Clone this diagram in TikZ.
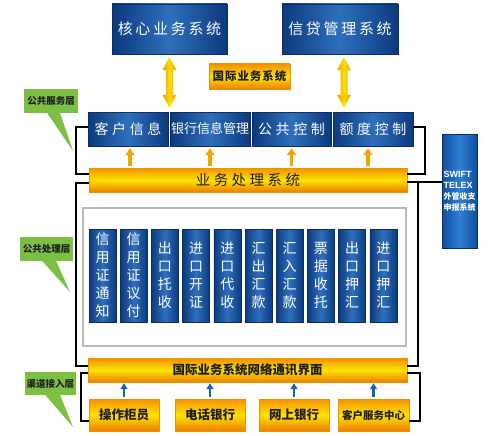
\documentclass[tikz,border=0pt]{standalone}
\usepackage{fontspec}
\setmainfont{Noto Sans CJK SC}
\newfontfamily\latinsans{Liberation Sans}
\usetikzlibrary{arrows.meta,calc}
\definecolor{navy}{HTML}{0C3A7E}
\definecolor{navylt}{HTML}{2E6FBC}
\definecolor{swiftdk}{HTML}{124E9E}
\definecolor{swiftlt}{HTML}{2F7FD2}
\definecolor{orng}{HTML}{F29100}
\definecolor{orngdk}{HTML}{EB7F00}
\definecolor{yel}{HTML}{FFE200}
\definecolor{arrorng}{HTML}{F5A300}
\definecolor{grn}{HTML}{7CC043}
\definecolor{txtdk}{HTML}{1E1E1E}
\definecolor{arrblue}{HTML}{1565B4}
\newcommand\dblarrow[2]{%
  \shade[left color=orng, right color=orng, middle color=yel]
  let \p1=(#1), \p2=(#2) in
  ({\x1},{\y1-3pt}) -- ({\x1-7pt},{\y1-16pt}) -- ({\x1-3.5pt},{\y1-16pt}) --
  ({\x1-3.5pt},{\y2+17pt}) -- ({\x1-7pt},{\y2+17pt}) -- ({\x1},{\y2+4pt}) --
  ({\x1+7pt},{\y2+17pt}) -- ({\x1+3.5pt},{\y2+17pt}) -- ({\x1+3.5pt},{\y1-16pt}) --
  ({\x1+7pt},{\y1-16pt}) -- cycle;}
\tikzset{
  bluebox/.style={left color=navy, right color=navy, middle color=navylt,
    draw=navy!80!black, line width=0.4pt, text=white, inner sep=0pt},
  orangebox/.style={top color=orng, bottom color=orngdk, middle color=yel,
    draw=orng, line width=0.4pt, text=txtdk, inner sep=0pt},
  greentag/.style={fill=grn, text=txtdk, inner sep=0pt,
    font=\fontsize{9.5}{10}\selectfont\bfseries},
  bracket/.style={draw=black, line width=1.8pt, line join=miter},
  upo/.style={draw=arrorng, line width=3.5pt, -{Triangle[width=9pt,length=7pt]},
    shorten <=2pt, shorten >=2pt},
  upb/.style={draw=arrblue, line width=2.5pt, -{Triangle[width=7pt,length=6pt]},
    shorten <=2pt, shorten >=1pt},
  vbox/.style={bluebox, minimum width=27pt, minimum height=93pt, align=center,
    font=\fontsize{14}{18}\selectfont},
  rowbox/.style={bluebox, minimum height=34pt},
  botbox/.style={orangebox, minimum width=70pt, minimum height=32pt,
    font=\fontsize{12.5}{13}\selectfont\bfseries},
}
\begin{document}
\begin{tikzpicture}[x=1pt,y=-1pt]
\useasboundingbox (0,0) rectangle (495,436);

% inner panel
\node[draw=gray!55, line width=1.2pt, fill=white, minimum width=323pt, minimum height=138pt] (panel) at (244.5,277) {};

% top systems
\node[bluebox, minimum width=115pt, minimum height=50pt,
  font=\fontsize{15}{15}\selectfont\addfontfeature{LetterSpace=18}] (core) at (169.5,29) {核心业务系统};
\node[bluebox, minimum width=116pt, minimum height=50pt,
  font=\fontsize{15}{15}\selectfont\addfontfeature{LetterSpace=18}] (credit) at (340,29) {信贷管理系统};
\node[orangebox, minimum width=81pt, minimum height=25pt,
  font=\fontsize{11.5}{12}\selectfont\bfseries\addfontfeature{LetterSpace=8}] (intl) at (249.5,76.5) {国际业务系统};

% service row
\node[rowbox, minimum width=80pt, font=\fontsize{14}{14}\selectfont\addfontfeature{LetterSpace=26}] (kehu) at (128,129) {客户信息};
\node[rowbox, minimum width=80pt, font=\fontsize{13}{13}\selectfont] (yinhang) at (210,129) {银行信息管理};
\node[rowbox, minimum width=79pt, font=\fontsize{14}{14}\selectfont\addfontfeature{LetterSpace=26}] (gonggong) at (291.5,129) {公共控制};
\node[rowbox, minimum width=80pt, font=\fontsize{14}{14}\selectfont\addfontfeature{LetterSpace=26}] (edu) at (373,129) {额度控制};

% processing bar
\node[orangebox, minimum width=318pt, minimum height=24pt,
  font=\fontsize{14.5}{15}\selectfont\addfontfeature{LetterSpace=24}] (bar1) at (248,180) {业务处理系统};

% SWIFT box
\node[bluebox, left color=swiftdk, right color=swiftdk, middle color=swiftlt,
  minimum width=35pt, minimum height=114pt, align=left,
  font=\fontsize{9}{11}\selectfont] (swift) at (459.5,191)
  {{\latinsans\bfseries SWIFT}\\{\latinsans\bfseries TELEX}\\{\fontsize{8}{11}\selectfont\bfseries 外管收支}\\{\fontsize{8}{11}\selectfont\bfseries 申报系统}};

% vertical business boxes
\node[vbox] (v1) at (102.5,275.5) {信\\用\\证\\通\\知};
\node[vbox] (v2) at (133.7,275.5) {信\\用\\证\\议\\付};
\node[vbox] (v3) at (164.9,275.5) {出\\口\\托\\收};
\node[vbox] (v4) at (196.1,275.5) {进\\口\\开\\证};
\node[vbox] (v5) at (227.3,275.5) {进\\口\\代\\收};
\node[vbox] (v6) at (258.5,275.5) {汇\\出\\汇\\款};
\node[vbox] (v7) at (289.7,275.5) {汇\\入\\汇\\款};
\node[vbox] (v8) at (320.9,275.5) {票\\据\\收\\托};
\node[vbox] (v9) at (352.1,275.5) {出\\口\\押\\汇};
\node[vbox] (v10) at (383.3,275.5) {进\\口\\押\\汇};

% network bar
\node[orangebox, minimum width=319pt, minimum height=24pt,
  font=\fontsize{12.5}{13}\selectfont\bfseries] (bar2) at (247.5,370) {国际业务系统网络通讯界面};

% channel boxes
\node[botbox] (caozuo) at (124,415) {操作柜员};
\node[botbox] (dianhua) at (210,415) {电话银行};
\node[botbox] (wangshang) at (294,415) {网上银行};
\node[botbox, minimum width=71pt, font=\fontsize{10.5}{11}\selectfont\bfseries] (kefu) at (373.5,415) {客户服务中心};

% green tags
\node[greentag, minimum width=54pt, minimum height=24pt] (fwc) at (51,101) {公共服务层};
\coordinate (fwtip) at (73,151);
\fill[grn] ([xshift=-4pt,yshift=0.5pt]fwc.south) -- (fwtip) -- ([xshift=9pt,yshift=0.5pt]fwc.south) -- cycle;
\node[greentag, minimum width=53pt, minimum height=24pt] (clc) at (46.5,249) {公共处理层};
\coordinate (cltip) at (70,292);
\fill[grn] ([xshift=-4.5pt,yshift=0.5pt]clc.south) -- (cltip) -- ([xshift=9.5pt,yshift=0.5pt]clc.south) -- cycle;
\node[greentag, minimum width=51pt, minimum height=23pt] (qdc) at (50.5,383.5) {渠道接入层};
\coordinate (qdtip) at (73,427);
\fill[grn] ([xshift=-5.5pt,yshift=0.5pt]qdc.south) -- (qdtip) -- ([xshift=9.5pt,yshift=0.5pt]qdc.south) -- cycle;

% double arrows
\dblarrow{core.south}{kehu.north}
\dblarrow{[xshift=4pt]credit.south}{edu.north}

% small up arrows (processing -> service)
\coordinate (eduarr) at ($(edu.south)+(-5,0)$);
\coordinate (kehuarr) at ($(kehu.south)+(2,0)$);
\draw[upo] (kehuarr |- bar1.north) -- (kehuarr);
\draw[upo] (yinhang.south |- bar1.north) -- (yinhang.south);
\draw[upo] (gonggong.south |- bar1.north) -- (gonggong.south);
\draw[upo] (eduarr |- bar1.north) -- (eduarr);

% blue up arrows (channels -> network)
\draw[upb] (caozuo.north) -- (caozuo.north |- bar2.south);
\draw[upb] (dianhua.north) -- (dianhua.north |- bar2.south);
\draw[upb] (wangshang.north) -- (wangshang.north |- bar2.south);
\draw[upb] (kefu.north) -- (kefu.north |- bar2.south);

% brackets
\draw[bracket] ([yshift=2pt]kehu.west) -- ++(-12,0) |- ([yshift=6pt]bar1.west);
\draw[bracket] ([yshift=2pt]edu.east) -- ++(12,0) |- ([yshift=6pt]bar1.east);
\draw[bracket] ([yshift=-3pt]bar1.west) -- ++(-13,0) |- ([yshift=4pt]bar2.west);
\draw[bracket] ([yshift=-2pt]bar1.east) -- ([yshift=-2pt]bar1.east -| swift.west);
\draw[bracket] ([yshift=-2pt,xshift=11pt]bar1.east) |- ([yshift=4pt]bar2.east);
\draw[bracket] ([yshift=-3pt]bar2.west) -- ++(-7,0) |- ([yshift=-6pt]caozuo.west);
\draw[bracket] ([yshift=-3pt]bar2.east) -- ++(13,0) |- ([yshift=-6pt]kefu.east);
\end{tikzpicture}
\end{document}
